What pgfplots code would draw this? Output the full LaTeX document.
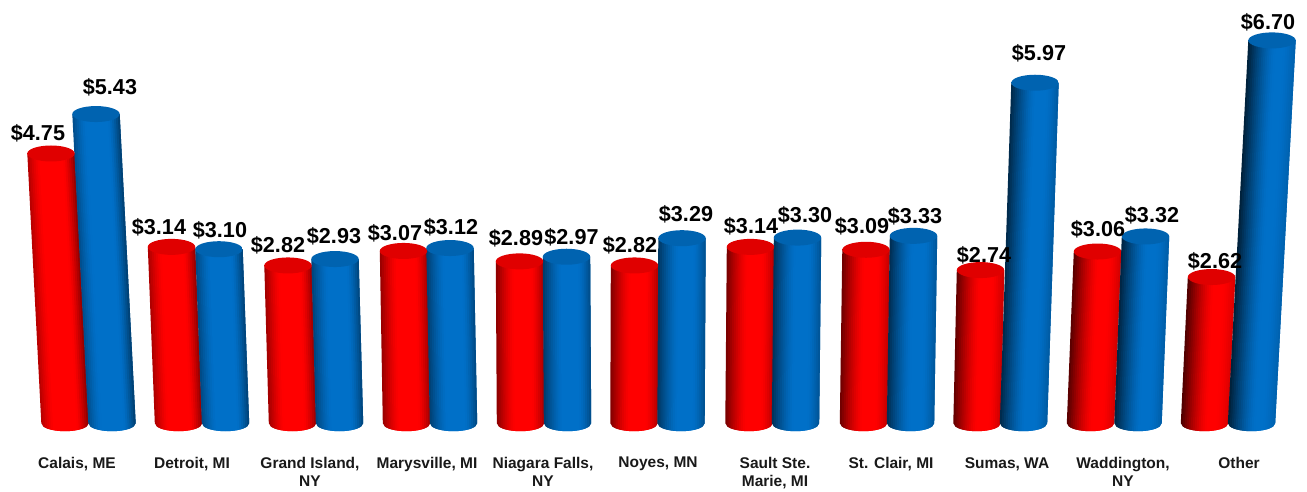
\documentclass[border=0pt]{standalone}
\usepackage{fontspec}
\setmainfont{Liberation Sans}
\usepackage{pgfplots}
\pgfplotsset{compat=1.18}
\definecolor{barblue}{RGB}{0,112,200}
\pgfdeclareplotmark{capred}{\shade[draw=none,left color=red!88!black,middle color=red!70!black,right color=red!88!black] (0pt,0pt) ellipse [x radius=23.7pt,y radius=8pt];}
\pgfdeclareplotmark{capblue}{\shade[draw=none,left color=barblue!88!black,middle color=barblue!68!black,right color=barblue!88!black] (0pt,0pt) ellipse [x radius=23.7pt,y radius=8pt];}
% #1 x at base, #2 x at top, #3 value, #4 #5 #6 base colour
\newcommand{\cyl}[6]{%
  \pgfmathsetmacro\dL{0.28+0.47*#1/1300}%
  \pgfmathsetmacro\wL{0.25+0.33*#1/1300}%
  \pgfmathsetmacro\dR{0.48-0.36*#1/1300}%
  \foreach \i in {0,...,23}{%
    \pgfmathsetmacro\ta{-1+\i/12}%
    \pgfmathsetmacro\tb{-1+(\i+1)/12}%
    \pgfmathsetmacro\tc{min(1,-1+(\i+2)/12)}%
    \pgfmathsetmacro\u{(\i+0.5)/24}%
    \pgfmathsetmacro\br{1-\dL*pow(max(0,1-\u/\wL),1.4)-\dR*pow(max(0,(\u-0.75)/0.25),1.4)}%
    \pgfmathsetmacro\cr{int(#4*\br)}\pgfmathsetmacro\cg{int(#5*\br)}\pgfmathsetmacro\cb{int(#6*\br)}%
    \pgfmathsetmacro\bxa{#1+23.7*\ta}\pgfmathsetmacro\bxb{#1+23.7*\tb}\pgfmathsetmacro\bxc{#1+23.7*\tc}%
    \pgfmathsetmacro\txa{#2+23.7*\ta}\pgfmathsetmacro\txc{#2+23.7*\tc}%
    \pgfmathsetmacro\bya{0.1-0.138*sqrt(max(0,1-\ta*\ta))}%
    \pgfmathsetmacro\byb{0.1-0.138*sqrt(max(0,1-\tb*\tb))}%
    \pgfmathsetmacro\byc{0.1-0.138*sqrt(max(0,1-\tc*\tc))}%
    \edef\tmp{\noexpand\addplot[mark=none,draw=none,fill={rgb,255:red,\cr;green,\cg;blue,\cb}] coordinates {(\bxa,\bya) (\txa,#3) (\txc,#3) (\bxc,\byc) (\bxb,\byb)} --cycle;}%
    \tmp
  }%
}
\begin{document}
\begin{tikzpicture}
\begin{axis}[
  scale only axis, width=1307pt, height=447pt,
  xmin=0, xmax=1307, ymin=-0.3103, ymax=7.3966,
  clip=false,
  axis line style={draw=none}, tick style={draw=none},
  ytick=\empty,
  xtick={77,192,310,427,543,658,775,891,1007,1123,1239},
  xticklabels={{Calais, ME},{Detroit, MI},{Grand Island,\\NY},{Marysville, MI},{Niagara Falls,\\NY},{Noyes, MN},{Sault Ste.\\Marie, MI},{St. Clair, MI},{Sumas, WA},{Waddington,\\NY},{Other}},
  x tick label style={font=\fontsize{15.5}{18.5}\selectfont\bfseries,align=center,anchor=north,inner sep=0pt,yshift=-10pt,color=black!90},
  /pgf/number format/assume math mode=true,
]
% red series: base x, top x, value
\cyl{65}{51}{4.75}{255}{0}{0}
\cyl{178.5}{171.5}{3.14}{255}{0}{0}
\cyl{292.5}{288}{2.82}{255}{0}{0}
\cyl{406.5}{403.5}{3.07}{255}{0}{0}
\cyl{520.5}{519.5}{2.89}{255}{0}{0}
\cyl{634}{634.5}{2.82}{255}{0}{0}
\cyl{749}{750.5}{3.14}{255}{0}{0}
\cyl{863.5}{866}{3.09}{255}{0}{0}
\cyl{977}{980.5}{2.74}{255}{0}{0}
\cyl{1090.5}{1097.5}{3.06}{255}{0}{0}
\cyl{1204.5}{1211.5}{2.62}{255}{0}{0}
\addplot[only marks,mark=capred] coordinates {(51,4.75) (171.5,3.14) (288,2.82) (403.5,3.07) (519.5,2.89) (634.5,2.82) (750.5,3.14) (866,3.09) (980.5,2.74) (1097.5,3.06) (1211.5,2.62)};
% blue series
\cyl{112}{96}{5.43}{0}{112}{200}
\addplot[only marks,mark=capblue] coordinates {(96,5.43)};
\cyl{225.5}{219}{3.10}{0}{112}{200}
\addplot[only marks,mark=capblue] coordinates {(219,3.10)};
\cyl{339.5}{335}{2.93}{0}{112}{200}
\addplot[only marks,mark=capblue] coordinates {(335,2.93)};
\cyl{453.5}{450}{3.12}{0}{112}{200}
\addplot[only marks,mark=capblue] coordinates {(450,3.12)};
\cyl{567.5}{566.5}{2.97}{0}{112}{200}
\addplot[only marks,mark=capblue] coordinates {(566.5,2.97)};
\cyl{681}{682}{3.29}{0}{112}{200}
\addplot[only marks,mark=capblue] coordinates {(682,3.29)};
\cyl{795.5}{797.5}{3.30}{0}{112}{200}
\addplot[only marks,mark=capblue] coordinates {(797.5,3.30)};
\cyl{910.5}{913.5}{3.33}{0}{112}{200}
\addplot[only marks,mark=capblue] coordinates {(913.5,3.33)};
\cyl{1023.5}{1035}{5.97}{0}{112}{200}
\addplot[only marks,mark=capblue] coordinates {(1035,5.97)};
\cyl{1138}{1145.5}{3.32}{0}{112}{200}
\addplot[only marks,mark=capblue] coordinates {(1145.5,3.32)};
\cyl{1251.5}{1272}{6.70}{0}{112}{200}
\addplot[only marks,mark=capblue] coordinates {(1272,6.70)};
% value labels: position, [value]
\addplot[draw=none,mark=none,point meta=explicit,
  nodes near coords={\$\pgfmathprintnumber[fixed,fixed zerofill,precision=2]{\pgfplotspointmeta}},
  every node near coord/.append style={anchor=center,inner sep=0pt,font=\fontsize{21.6}{24}\selectfont\bfseries,text=black}]
 coordinates {
 (38,5.10)[4.75] (110,5.90)[5.43] (159,3.48)[3.14] (220,3.43)[3.10]
 (278,3.17)[2.82] (334,3.33)[2.93] (395,3.38)[3.07] (451,3.48)[3.12]
 (516,3.29)[2.89] (571.5,3.31)[2.97] (630,3.16)[2.82] (686,3.71)[3.29]
 (751,3.50)[3.14] (805,3.69)[3.30] (862,3.50)[3.09] (915,3.66)[3.33]
 (984,3.00)[2.74] (1039,6.47)[5.97] (1098,3.45)[3.06] (1152,3.69)[3.32]
 (1215,2.90)[2.62] (1268,7.02)[6.70]};
\end{axis}
\useasboundingbox (0pt,-45pt) rectangle (1307pt,447pt);
\end{tikzpicture}
\end{document}
